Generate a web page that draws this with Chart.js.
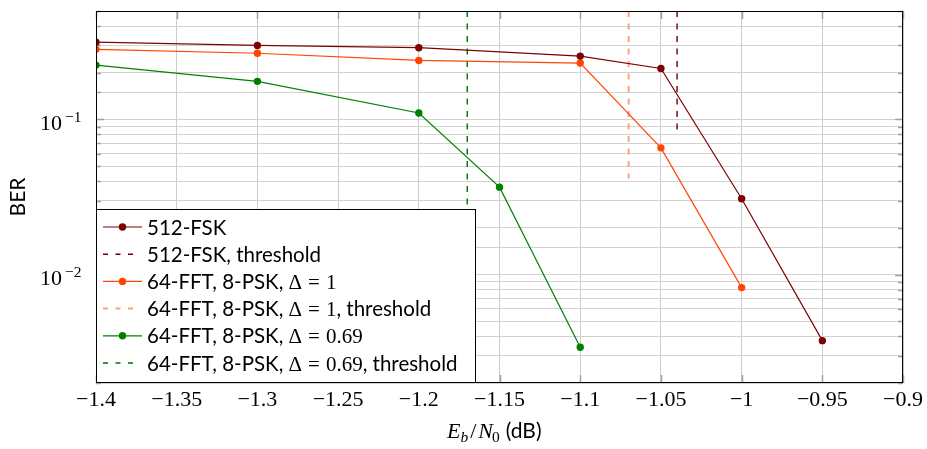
<!DOCTYPE html>
<html><head><meta charset="utf-8">
<script src="https://cdn.jsdelivr.net/npm/chart.js@4/dist/chart.umd.min.js"></script>
<style>html,body{margin:0;padding:0;background:#fff}#wrap{width:927px;height:449px;position:relative}</style>
</head><body><div id="wrap"><canvas id="c"></canvas></div>
<script>
// ---- tick labels ----
const xTicks = [-1.4, -1.35, -1.3, -1.25, -1.2, -1.15, -1.1, -1.05, -1, -0.95, -0.9];
const xTickLabels = ["−1.4", "−1.35", "−1.3", "−1.25", "−1.2", "−1.15", "−1.1", "−1.05", "−1", "−0.95", "−0.9"];
const yMajorTicks = [0.1, 0.01];
const yMajorBase = ["10", "10"];
const yMajorExponents = ["−1", "−2"];

// ---- series ----
const seriesLabels = [
  "512-FSK",
  "512-FSK, threshold",
  "64-FFT, 8-PSK, Δ = 1",
  "64-FFT, 8-PSK, Δ = 1, threshold",
  "64-FFT, 8-PSK, Δ = 0.69",
  "64-FFT, 8-PSK, Δ = 0.69, threshold"
];
const fskEbN0 = [-1.4, -1.3, -1.2, -1.1, -1.05, -1.0, -0.95];
const fskBER = [0.315, 0.300, 0.290, 0.256, 0.213, 0.0308, 0.00375];
const fskThresholdEbN0 = [-1.04, -1.04];
const fskThresholdBER = [0.5, 0.081];

const d1EbN0 = [-1.4, -1.3, -1.2, -1.1, -1.05, -1.0];
const d1BER = [0.283, 0.267, 0.240, 0.231, 0.0656, 0.00824];
const d1ThresholdEbN0 = [-1.07, -1.07];
const d1ThresholdBER = [0.5, 0.0416];

const d069EbN0 = [-1.4, -1.3, -1.2, -1.15, -1.1];
const d069BER = [0.224, 0.176, 0.110, 0.0366, 0.0034];
const d069ThresholdEbN0 = [-1.17, -1.17];
const d069ThresholdBER = [0.5, 0.01];

const toPts = (xs, ys) => xs.map((x, i) => ({x: x, y: ys[i]}));

const SANS = "Lato";
const SERIF = "'Liberation Serif'";

function mkSeries(label, xs, ys, color) {
  return {label, data: toPts(xs, ys), showLine: true, borderColor: color, backgroundColor: color,
    borderWidth: 1.2, pointRadius: 3.7, pointHoverRadius: 3.7, pointBorderWidth: 0, pointBackgroundColor: color};
}
function mkThreshold(label, xs, ys, color, width) {
  return {label, data: toPts(xs, ys), showLine: true, borderColor: color, backgroundColor: color,
    borderWidth: width, borderDash: [6, 6.5], pointRadius: 0, pointHoverRadius: 0};
}

const datasets = [
  mkSeries(seriesLabels[0], fskEbN0, fskBER, "#7f0000"),
  mkThreshold(seriesLabels[1], fskThresholdEbN0, fskThresholdBER, "#6a0000", 1.4),
  mkSeries(seriesLabels[2], d1EbN0, d1BER, "#ff4500"),
  mkThreshold(seriesLabels[3], d1ThresholdEbN0, d1ThresholdBER, "#ffa07f", 2),
  mkSeries(seriesLabels[4], d069EbN0, d069BER, "#008000"),
  mkThreshold(seriesLabels[5], d069ThresholdEbN0, d069ThresholdBER, "#007000", 1.4)
];

function drawMathLabel(ctx, text, x, y, size) {
  const re = /Δ = [0-9.]+/;
  const m = text.match(re);
  const sansFont = size + "px " + SANS;
  const serifFont = (size + 0.5) + "px " + SERIF;
  ctx.textBaseline = "alphabetic";
  ctx.textAlign = "left";
  let cx = x;
  const drawSans = (s) => { ctx.font = sansFont; ctx.fillText(s, cx, y); cx += ctx.measureText(s).width; };
  if (!m) { drawSans(text); return cx; }
  const before = text.slice(0, m.index), after = text.slice(m.index + m[0].length);
  drawSans(before);
  ctx.font = serifFont;
  const num = m[0].replace("Δ = ", "");
  ctx.fillText("Δ", cx, y); cx += ctx.measureText("Δ").width + 6;
  ctx.fillText("=", cx, y); cx += ctx.measureText("=").width + 6;
  ctx.fillText(num, cx, y); cx += ctx.measureText(num).width;
  drawSans(after);
  return cx;
}

const decor = {
  id: "decor",
  beforeDatasetsDraw(chart) {
    const {ctx, chartArea: a, scales: {x, y}} = chart;
    ctx.save();
    ctx.strokeStyle = "#a0a0a0";
    ctx.lineWidth = 1.5;
    const ln = (x1, y1, x2, y2) => { ctx.beginPath(); ctx.moveTo(x1, y1); ctx.lineTo(x2, y2); ctx.stroke(); };
    xTicks.forEach(v => {
      const px = Math.round(x.getPixelForValue(v)) + 0.5;
      ln(px, a.top, px, a.top + 8);
      ln(px, a.bottom, px, a.bottom - 8);
    });
    y.ticks.forEach(t => {
      const py = Math.round(y.getPixelForValue(t.value)) + 0.5;
      const major = yMajorTicks.some(m => Math.abs(m - t.value) / m < 1e-6);
      const L = major ? 8 : 5;
      ln(a.left, py, a.left + L, py);
      ln(a.right, py, a.right - L, py);
    });
    ctx.restore();
  },
  afterDraw(chart) {
    const {ctx, chartArea: a, scales: {x, y}} = chart;
    ctx.save();
    ctx.strokeStyle = "#000";
    ctx.lineWidth = 1;
    ctx.strokeRect(a.left + 0.5, a.top + 0.5, a.right - a.left - 1, a.bottom - a.top - 1);

    ctx.fillStyle = "#000";
    ctx.textBaseline = "alphabetic";
    yMajorTicks.forEach((v, i) => {
      const py = y.getPixelForValue(v);
      ctx.font = "22px " + SERIF;
      ctx.textAlign = "right";
      ctx.fillText(yMajorBase[i], a.left - 34, py + 10.5);
      ctx.font = "15.5px " + SERIF;
      ctx.textAlign = "left";
      ctx.fillText(yMajorExponents[i], a.left - 31, py + 2.5);
    });

    ctx.save();
    ctx.translate(25, (a.top + a.bottom) / 2);
    ctx.rotate(-Math.PI / 2);
    ctx.font = "21px " + SANS;
    ctx.textAlign = "center";
    ctx.textBaseline = "alphabetic";
    ctx.fillText("BER", 0, 0);
    ctx.restore();

    const base = 438;
    let cx = 447;
    ctx.textAlign = "left";
    ctx.font = "italic 22px " + SERIF;
    ctx.fillText("E", cx, base); cx += ctx.measureText("E").width;
    ctx.font = "italic 15.5px " + SERIF;
    ctx.fillText("b", cx, base + 4); cx += ctx.measureText("b").width + 2;
    ctx.font = "22px " + SERIF;
    ctx.fillText("/", cx, base); cx += ctx.measureText("/").width + 2;
    ctx.font = "italic 22px " + SERIF;
    ctx.fillText("N", cx, base); cx += ctx.measureText("N").width - 1;
    ctx.font = "15.5px " + SERIF;
    ctx.fillText("0", cx, base + 4); cx += ctx.measureText("0").width + 6;
    ctx.font = "21px " + SANS;
    ctx.fillText("(dB)", cx, base);

    const lw = 380, lh = 174;
    const lx = a.left, ly = a.bottom - lh;
    ctx.fillStyle = "#fff";
    ctx.fillRect(lx, ly, lw, lh);
    ctx.strokeStyle = "#000";
    ctx.lineWidth = 1;
    ctx.strokeRect(lx + 0.5, ly + 0.5, lw - 1, lh - 1);
    chart.data.datasets.forEach((ds, i) => {
      const ry = ly + 18 + i * 27.2;
      ctx.save();
      ctx.strokeStyle = ds.borderColor;
      const solid = ds.pointRadius > 0;
      ctx.lineWidth = solid ? 1.2 : ds.borderWidth;
      ctx.setLineDash(solid ? [] : [5, 7.5]);
      ctx.beginPath(); ctx.moveTo(lx + 7, ry); ctx.lineTo(lx + (solid ? 46 : 38), ry); ctx.stroke();
      ctx.setLineDash([]);
      if (solid) {
        ctx.fillStyle = ds.pointBackgroundColor;
        ctx.beginPath(); ctx.arc(lx + 26.5, ry, 3.7, 0, Math.PI * 2); ctx.fill();
      }
      ctx.restore();
      ctx.fillStyle = "#000";
      drawMathLabel(ctx, ds.label, lx + 51, ry + 7.5, 20.5);
    });
    ctx.restore();
  }
};

new Chart(document.getElementById("c"), {
  type: "scatter",
  data: {datasets},
  options: {
    responsive: true,
    maintainAspectRatio: false,
    animation: false,
    events: [],
    layout: {padding: {left: 0, right: 23, top: 11, bottom: 0}},
    plugins: {legend: {display: false}, tooltip: {enabled: false}},
    scales: {
      x: {
        type: "linear", min: -1.4, max: -0.9,
        afterBuildTicks: (s) => { s.ticks = xTicks.map(v => ({value: v})); },
        afterFit: (s) => { s.height = 66; },
        ticks: {
          autoSkip: false, maxRotation: 0, padding: 4, color: "#000",
          font: {family: SERIF, size: 22},
          callback: (v, i) => xTickLabels[i]
        },
        grid: {color: "#cccccc", lineWidth: 1, drawTicks: false},
        border: {display: false}
      },
      y: {
        type: "logarithmic", min: 0.002, max: 0.5,
        afterFit: (s) => { s.width = 96; },
        ticks: {display: false, autoSkip: false},
        grid: {color: "#d2d2d2", lineWidth: 1, drawTicks: false},
        border: {display: false}
      }
    }
  },
  plugins: [decor]
});
</script>
</body></html>
